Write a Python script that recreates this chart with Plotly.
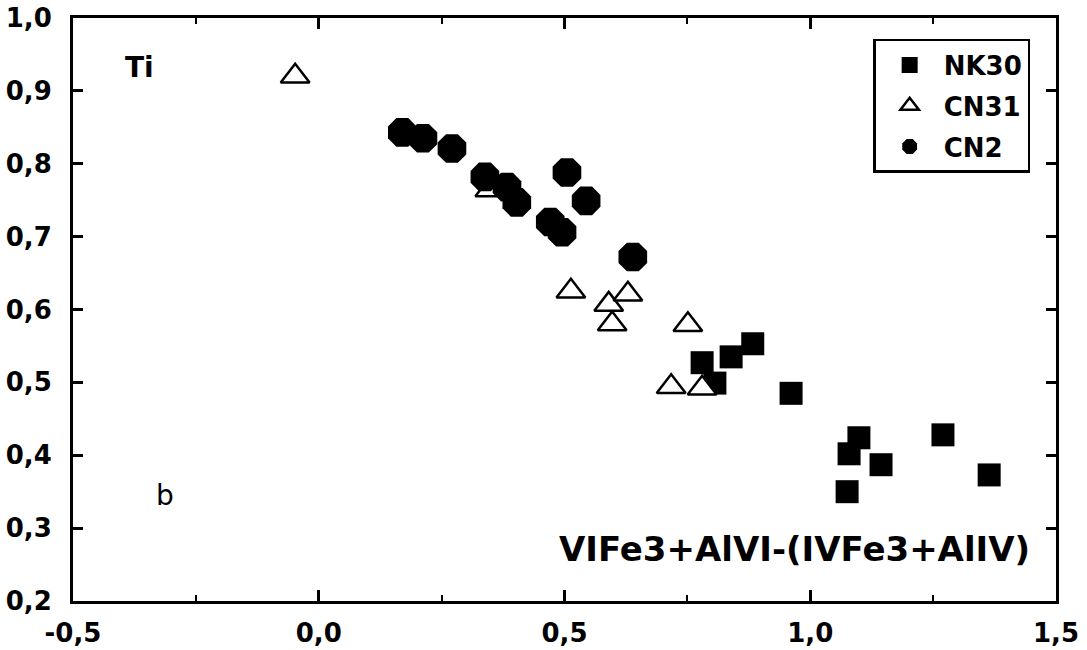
import plotly.graph_objects as go

# NK30 (filled squares)
nk30_x = [0.780, 0.806, 0.839, 0.883, 0.961, 1.099, 1.079, 1.144, 1.270, 1.075, 1.364]
nk30_y = [0.527, 0.499, 0.535, 0.553, 0.485, 0.424, 0.402, 0.387, 0.428, 0.350, 0.373]

# CN31 (open triangles)
cn31_x = [-0.048, 0.348, 0.513, 0.590, 0.629, 0.597, 0.751, 0.717, 0.780]
cn31_y = [0.920, 0.764, 0.625, 0.607, 0.621, 0.580, 0.579, 0.494, 0.492]

# CN2 (filled octagons)
cn2_x = [0.170, 0.212, 0.271, 0.338, 0.383, 0.403, 0.505, 0.544, 0.471, 0.495, 0.639]
cn2_y = [0.843, 0.835, 0.821, 0.782, 0.768, 0.747, 0.788, 0.749, 0.720, 0.706, 0.672]

x_tickvals = [-0.5, 0.0, 0.5, 1.0, 1.5]
x_ticktext = ["-0,5", "0,0", "0,5", "1,0", "1,5"]
y_tickvals = [0.2, 0.3, 0.4, 0.5, 0.6, 0.7, 0.8, 0.9, 1.0]
y_ticktext = ["0,2", "0,3", "0,4", "0,5", "0,6", "0,7", "0,8", "0,9", "1,0"]

x_title = "VIFe3+AlVI-(IVFe3+AlIV)"
y_label = "Ti"
panel_label = "b"

fig = go.Figure()
fig.add_trace(go.Scatter(
    x=nk30_x, y=nk30_y, mode="markers", name="NK30", legendgroup="a",
    marker=dict(symbol="square", size=23, color="black", line=dict(width=0)),
))
fig.add_trace(go.Scatter(
    x=cn31_x, y=cn31_y, mode="markers", name="CN31", legendgroup="b",
    marker=dict(symbol="triangle-up", size=25, color="white",
                line=dict(width=2.5, color="black")),
))
fig.add_trace(go.Scatter(
    x=cn2_x, y=cn2_y, mode="markers", name="CN2", legendgroup="c",
    marker=dict(symbol="octagon", size=31, color="black", line=dict(width=0)),
))

axis_font = dict(family="DejaVu Sans", size=26, color="black", weight="bold")

fig.update_xaxes(
    range=[-0.5, 1.5], tickmode="array", tickvals=x_tickvals, ticktext=x_ticktext,
    ticks="inside", ticklen=11, tickwidth=2.5, tickcolor="black",
    minor=dict(dtick=0.25, ticks="inside", ticklen=6, tickwidth=2, tickcolor="black"),
    showline=True, linewidth=3, linecolor="black", mirror="ticks",
    showgrid=False, zeroline=False, tickfont=axis_font, ticklabelstandoff=7,
    automargin=False,
)
fig.update_yaxes(
    range=[0.2, 1.0], tickmode="array", tickvals=y_tickvals, ticktext=y_ticktext,
    ticks="inside", ticklen=10, tickwidth=2.5, tickcolor="black",
    showline=True, linewidth=3, linecolor="black", mirror="ticks",
    showgrid=False, zeroline=False, tickfont=axis_font, ticklabelstandoff=13,
    automargin=False,
)

fig.add_annotation(x=-0.364, y=0.932, text="<b>" + y_label + "</b>", showarrow=False,
                   font=dict(family="DejaVu Sans", size=28, color="black"))
fig.add_annotation(x=-0.313, y=0.345, text=panel_label, showarrow=False,
                   font=dict(family="DejaVu Sans", size=28, color="black"))
fig.add_annotation(x=1.452, y=0.272, text="<b>" + x_title + "</b>", showarrow=False,
                   xanchor="right", yanchor="middle",
                   font=dict(family="DejaVu Sans", size=34, color="black"))

fig.update_layout(
    width=1087, height=650,
    margin=dict(l=73, r=31, t=18, b=49),
    paper_bgcolor="white", plot_bgcolor="white",
    showlegend=True,
    legend=dict(
        x=0.814, y=0.964, xanchor="left", yanchor="top",
        bordercolor="black", borderwidth=2.5, bgcolor="white",
        font=dict(family="DejaVu Sans", size=26, color="black", weight="bold"),
        tracegroupgap=4, itemwidth=58,
    ),
)

fig.write_html(
    "out.html",
    config={"displayModeBar": False},
    post_script="document.body.style.margin='0px';document.body.style.overflow='hidden';",
)
